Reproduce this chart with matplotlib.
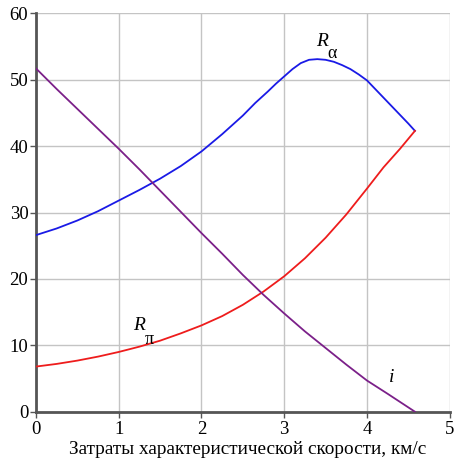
import matplotlib
matplotlib.use("Agg")
import matplotlib.pyplot as plt

plt.rcParams['font.family'] = ['Liberation Serif', 'DejaVu Serif']

x_ra = [0, 0.25, 0.5, 0.75, 1.0, 1.25, 1.5, 1.75, 2.0, 2.25, 2.5, 2.65, 2.8, 2.9, 3.0, 3.1, 3.2,
        3.3, 3.4, 3.5, 3.6, 3.7, 3.8, 3.9, 4.0, 4.1, 4.2, 4.3, 4.4, 4.5, 4.58]
r_alpha = [26.6, 27.6, 28.8, 30.2, 31.8, 33.4, 35.1, 37.0, 39.2, 41.8, 44.6, 46.5, 48.2, 49.4, 50.5, 51.6, 52.5,
           53.0, 53.1, 53.0, 52.7, 52.2, 51.6, 50.8, 49.9, 48.6, 47.3, 46.0, 44.7, 43.4, 42.3]

x_rp = [0, 0.25, 0.5, 0.75, 1.0, 1.25, 1.5, 1.75, 2.0, 2.25, 2.5, 2.75, 3.0, 3.25, 3.5, 3.75, 4.0, 4.2, 4.4, 4.58]
r_pi = [6.8, 7.2, 7.7, 8.3, 9.0, 9.8, 10.7, 11.8, 13.0, 14.4, 16.1, 18.1, 20.4, 23.1, 26.2, 29.7, 33.6, 36.8, 39.6, 42.3]

x_i = [0, 0.25, 0.5, 0.75, 1.0, 1.25, 1.5, 1.75, 2.0, 2.25, 2.5, 2.75, 3.0, 3.25, 3.5, 3.75, 4.0, 4.25, 4.58]
i_vals = [51.7, 48.6, 45.6, 42.6, 39.6, 36.5, 33.3, 30.1, 26.9, 23.8, 20.6, 17.6, 14.8, 12.1, 9.6, 7.1, 4.7, 2.7, 0.0]

x_ticks = [0, 1, 2, 3, 4, 5]
y_ticks = [0, 10, 20, 30, 40, 50, 60]
x_label = "Затраты характеристической скорости, км/с"

fig = plt.figure(figsize=(4.54, 4.61), dpi=100)
ax = fig.add_axes([0.0793, 0.1069, 0.9112, 0.8642])

ax.plot(x_ra, r_alpha, color='#1a1ae6', lw=1.3, zorder=3, solid_joinstyle='round')
ax.plot(x_rp, r_pi, color='#ee1c1c', lw=1.3, zorder=3, solid_joinstyle='round')
ax.plot(x_i, i_vals, color='#7b2089', lw=1.3, zorder=4, solid_joinstyle='round')

ax.set_xlim(0, 5)
ax.set_ylim(0, 60)
ax.set_xticks(x_ticks)
ax.set_yticks(y_ticks)
ax.grid(True, color='#c4c4c4', lw=1.0, zorder=0)
ax.set_axisbelow(True)

for s in ['top', 'right']:
    ax.spines[s].set_visible(False)
for s in ['left', 'bottom']:
    ax.spines[s].set_color('#555555')
    ax.spines[s].set_linewidth(2.0)

ax.tick_params(axis='both', direction='out', length=4, width=1.0, color='#555555',
               labelsize=13.5, pad=1.5)
ax.tick_params(axis='x', pad=3)

ax.text(3.457, 55.8, 'R', fontsize=14, style='italic', ha='center', va='center')
ax.text(3.58, 54.0, 'α', fontsize=13, ha='center', va='center')
ax.text(1.245, 13.0, 'R', fontsize=14, style='italic', ha='center', va='center')
ax.text(1.372, 10.9, 'π', fontsize=13, ha='center', va='center')
ax.text(4.295, 5.2, 'i', fontsize=14, style='italic', ha='center', va='center')

ax.set_xlabel(x_label, fontsize=13.9)
ax.xaxis.set_label_coords(0.512, -0.073)

fig.savefig('out.png', dpi=100)
